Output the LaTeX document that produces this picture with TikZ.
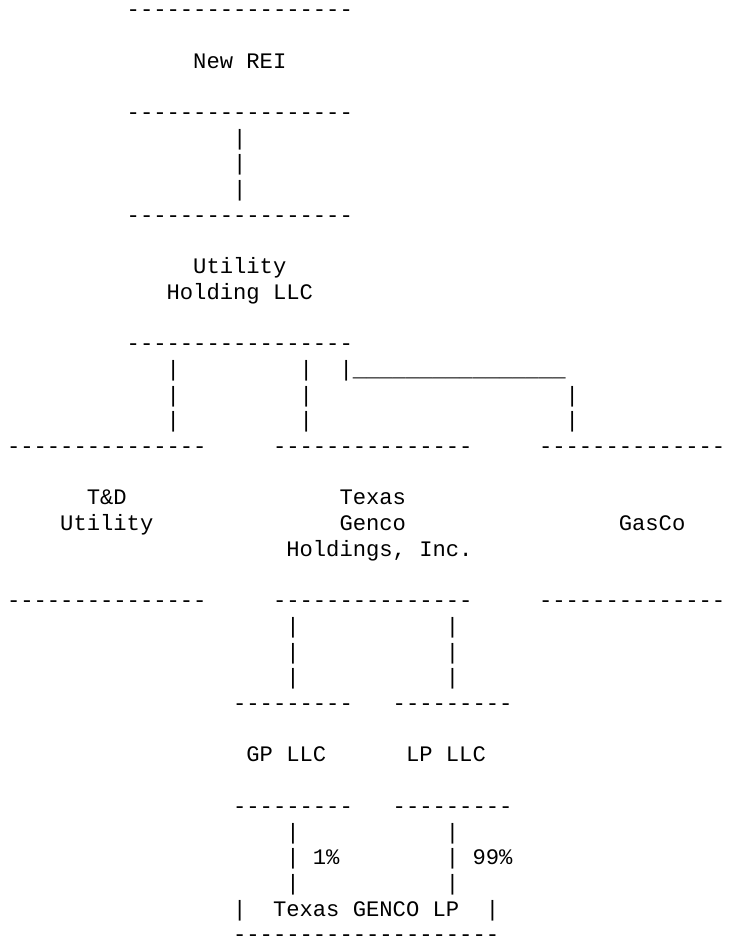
\documentclass[tikz,border=0pt]{standalone}
\usepackage{fontspec}
\newfontfamily\boxfont{Liberation Mono}
\tikzset{
	ascii/.style={font=\boxfont\fontsize{22.17}{25.7}\selectfont, anchor=base west, inner sep=0pt, outer sep=0pt},
}
\newcommand{\cw}{13.3}
\newcommand{\rh}{25.7}
% one piece of text on the character grid: name, column, row, text
\newcommand{\cell}[4]{\node[ascii] (#1) at ({#2*\cw-6.3}, {16.6+#3*\rh}) {#4};}

\begin{document}
\begin{tikzpicture}[x=1pt, y=-1pt]
	\useasboundingbox (0, 0) rectangle (733, 938);
	\clip (0, 0) rectangle (733, 938);
	% New REI
	\cell{reiTop}{10}{0}{-----------------}
	\cell{rei}{15}{2}{New REI}
	\cell{reiBot}{10}{4}{-----------------}
	\foreach \r in {5, 6, 7} {
		\cell{reiBar\r}{18}{\r}{|}
	}
	% Utility Holding LLC
	\cell{uhlTop}{10}{8}{-----------------}
	\cell{uhl}{15}{10}{Utility}
	\cell{uhlTwo}{13}{11}{Holding LLC}
	\cell{uhlBot}{10}{13}{-----------------}
	\cell{gasHook}{26}{14}{|\_\_\_\_\_\_\_\_\_\_\_\_\_\_\_\_}
	\foreach \r in {14, 15, 16} {
		\cell{tduBar\r}{13}{\r}{|}
		\cell{tghBar\r}{23}{\r}{|}
	}
	\foreach \r in {15, 16} {
		\cell{gasBar\r}{43}{\r}{|}
	}
	% T&D Utility, Texas Genco Holdings, GasCo
	\cell{tduTop}{1}{17}{---------------}
	\cell{tghTop}{21}{17}{---------------}
	\cell{gasTop}{41}{17}{--------------}
	\cell{tdu}{7}{19}{T\&D}
	\cell{tduTwo}{5}{20}{Utility}
	\cell{tgh}{26}{19}{Texas}
	\cell{tghTwo}{26}{20}{Genco}
	\cell{tghThree}{22}{21}{Holdings, Inc.}
	\cell{gas}{47}{20}{GasCo}
	\cell{tduBot}{1}{23}{---------------}
	\cell{tghBot}{21}{23}{---------------}
	\cell{gasBot}{41}{23}{--------------}
	\foreach \r in {24, 25, 26} {
		\cell{gpBar\r}{22}{\r}{|}
		\cell{lpBar\r}{34}{\r}{|}
	}
	% GP LLC and LP LLC
	\cell{gpTop}{18}{27}{---------}
	\cell{lpTop}{30}{27}{---------}
	\cell{gp}{19}{29}{GP LLC}
	\cell{lp}{31}{29}{LP LLC}
	\cell{gpBot}{18}{31}{---------}
	\cell{lpBot}{30}{31}{---------}
	\foreach \r in {32, 34} {
		\cell{gpShare\r}{22}{\r}{|}
		\cell{lpShare\r}{34}{\r}{|}
	}
	\cell{gpShare}{22}{33}{| 1\%}
	\cell{lpShare}{34}{33}{| 99\%}
	% Texas GENCO LP
	\cell{lpLeft}{18}{35}{|}
	\cell{genco}{21}{35}{Texas GENCO LP}
	\cell{lpRight}{37}{35}{|}
	\cell{gencoBot}{18}{36}{--------------------}
\end{tikzpicture}
\end{document}
